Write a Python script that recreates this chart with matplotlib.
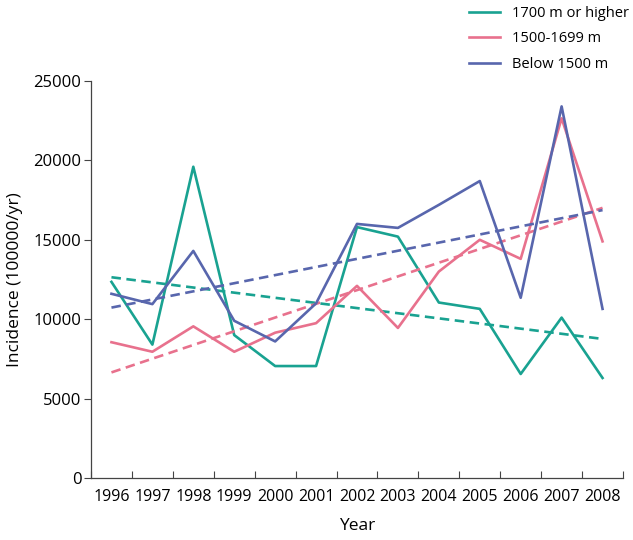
import numpy as np
import matplotlib
matplotlib.use("Agg")
from matplotlib import pyplot as plt

plt.rcParams['font.family'] = ['Open Sans', 'DejaVu Sans']

years = ['1996', '1997', '1998', '1999', '2000', '2001', '2002',
         '2003', '2004', '2005', '2006', '2007', '2008']

# incidence per altitude band
high = [12350, 8400, 19600, 9000, 7050, 7050, 15800, 15200, 11050, 10650, 6550, 10100, 6300]
mid = [8550, 7950, 9550, 7950, 9150, 9750, 12100, 9450, 13000, 15000, 13800, 22650, 14900]
low = [11600, 10950, 14300, 9900, 8600, 11000, 16000, 15750, 17200, 18700, 11350, 23400, 10650]

names = ['1700 m or higher', '1500-1699 m', 'Below 1500 m']
colors = ['#19a291', '#e8718d', '#5866ad']

fig = plt.figure(figsize=(6.33, 5.40), dpi=100)
ax = fig.add_axes([91 / 633, 1 - 478 / 540, 532 / 633, 397 / 540])

x = np.arange(len(years))
for vals, name, col in zip([high, mid, low], names, colors):
    ax.plot(x, vals, color=col, lw=1.9, label=name)
    # linear trend
    k, b = np.polyfit(x, vals, 1)
    ax.plot(x, k * x + b, color=col, lw=1.9, ls=(0, (3.6, 2.1)))

ax.set_xlim(-0.5, len(years) - 0.5)
ax.set_ylim(0, 25000)

ax.set_xticks(x)
ax.set_xticklabels(years)
ax.set_xticks(np.arange(len(years) + 1) - 0.5, minor=True)
ax.tick_params(axis='x', which='major', length=0, pad=8, labelsize=11.5)
ax.tick_params(axis='x', which='minor', direction='in', length=5, width=0.8, color='#444444')

ax.set_yticks(np.arange(0, 25001, 5000))
ax.tick_params(axis='y', direction='out', length=5, width=0.8, color='#444444', pad=2, labelsize=12)

for s in ['top', 'right']:
    ax.spines[s].set_visible(False)
for s in ['left', 'bottom']:
    ax.spines[s].set_color('#444444')
    ax.spines[s].set_linewidth(0.9)

ax.set_ylabel('Incidence (100000/yr)', fontsize=12.5)
ax.yaxis.set_label_coords(-0.128, 0.5)
ax.set_xlabel('Year', fontsize=12.5)
ax.xaxis.set_label_coords(0.5, -0.102)

ax.legend(loc='upper left', bbox_to_anchor=(469 / 633, 1 - 6 / 540),
          bbox_transform=fig.transFigure, frameon=False, fontsize=10.5,
          handlelength=2.1, handletextpad=0.85, labelspacing=0.72,
          borderpad=0, borderaxespad=0)

fig.savefig('out.png', dpi=100)
